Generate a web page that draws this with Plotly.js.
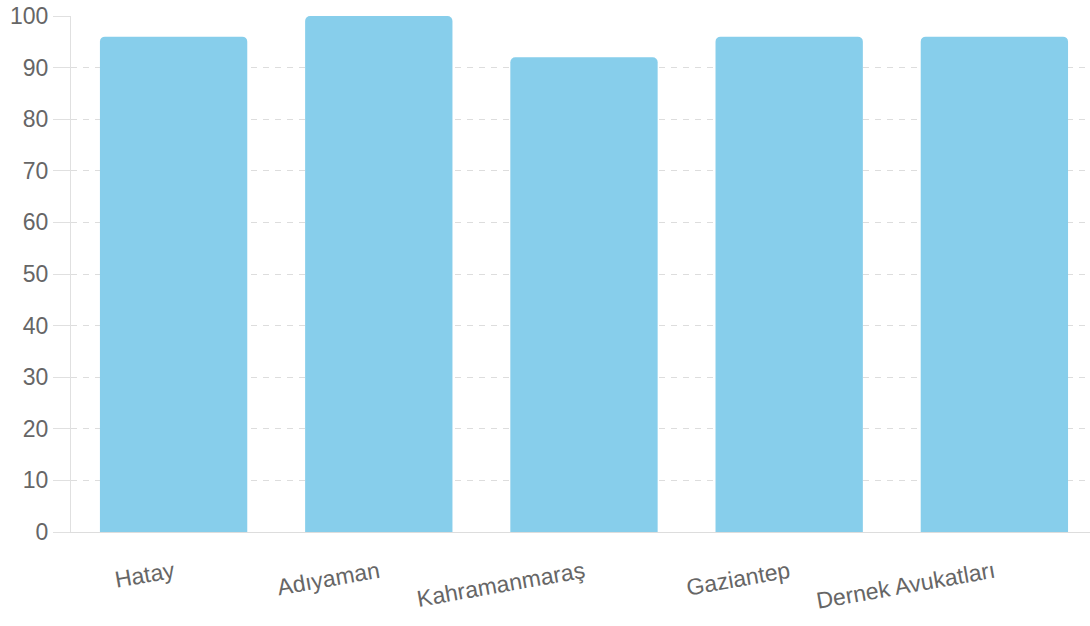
<!DOCTYPE html>
<html>
<head>
<meta charset="utf-8">
<script src="https://cdn.plot.ly/plotly-3.0.1.min.js"></script>
<style>
html,body{margin:0;padding:0;background:#fff;}
#chart{width:1090px;height:626px;}
</style>
</head>
<body>
<div id="chart"></div>
<script>
const categories = ["Hatay", "Adıyaman", "Kahramanmaraş", "Gaziantep", "Dernek Avukatları"];
const values = [96, 100, 92, 96, 96];
const yTicks = [0, 10, 20, 30, 40, 50, 60, 70, 80, 90, 100];

const textColor = "#666666";
const fontFamily = "'Liberation Sans', Arial, sans-serif";

const data = [{
  type: "bar",
  x: categories,
  y: values,
  width: 0.718,
  marker: {color: "#87CEEB", cornerradius: 5, line: {width: 0}},
  hoverinfo: "x+y"
}];

const layout = {
  width: 1090,
  height: 626,
  margin: {l: 71, r: 0, t: 16, b: 94, pad: 0},
  paper_bgcolor: "#ffffff",
  plot_bgcolor: "#ffffff",
  showlegend: false,
  font: {family: fontFamily, color: textColor, size: 23},
  xaxis: {
    type: "category",
    range: [-0.5, 4.466],
    showgrid: false,
    showline: true,
    linecolor: "#dddddd",
    linewidth: 1,
    ticks: "",
    tickangle: -10,
    ticklabelstandoff: 17,
    tickfont: {size: 23, color: textColor, family: fontFamily},
    fixedrange: true
  },
  yaxis: {
    range: [0, 100],
    tickvals: yTicks,
    ticktext: yTicks.map(String),
    showgrid: true,
    gridcolor: "#dddddd",
    griddash: "6px,6px",
    gridwidth: 1,
    zeroline: false,
    showline: true,
    linecolor: "#e0e0e0",
    linewidth: 1,
    ticks: "outside",
    ticklen: 17,
    tickcolor: "#e0e0e0",
    tickwidth: 1,
    ticklabelstandoff: 0,
    tickfont: {size: 23, color: textColor, family: fontFamily},
    fixedrange: true
  },
  bargap: 0.28
};

Plotly.newPlot("chart", data, layout, {displayModeBar: false, staticPlot: true});
</script>
</body>
</html>
